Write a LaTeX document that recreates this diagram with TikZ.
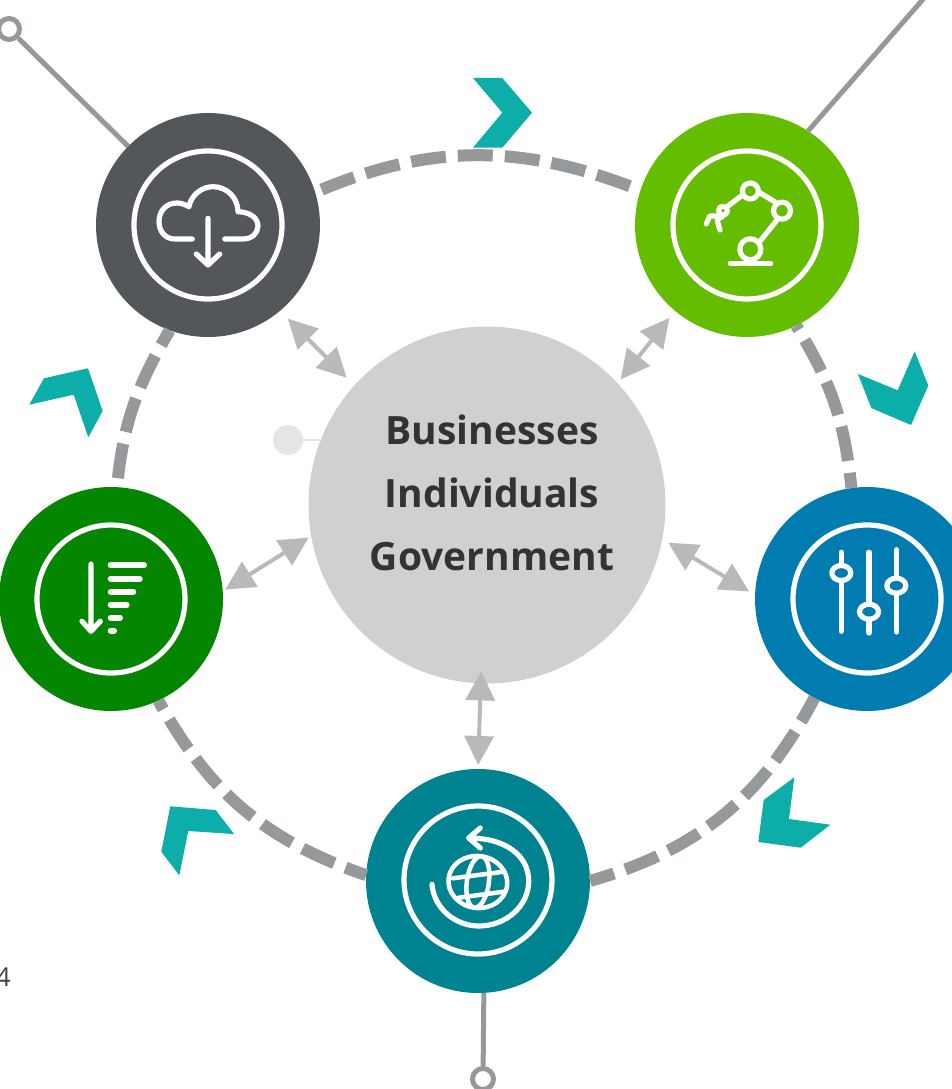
\documentclass[tikz,border=0pt]{standalone}
\usepackage{fontspec}
\setmainfont{Open Sans}
\usetikzlibrary{arrows.meta}
\definecolor{ringgray}{HTML}{96999B}
\definecolor{linkgray}{HTML}{B8BAB9}
\definecolor{hubgray}{HTML}{D0D0CE}
\definecolor{cloudgray}{HTML}{53565A}
\definecolor{robotgreen}{HTML}{65BD00}
\definecolor{sortgreen}{HTML}{048600}
\definecolor{sliderblue}{HTML}{007CB0}
\definecolor{globeteal}{HTML}{008391}
\definecolor{chevronteal}{HTML}{0DADAA}
\tikzset{
	stage/.style={circle, inner sep=0pt, outer sep=0pt, minimum size=224pt},
	pin/.style={circle, draw=ringgray, line width=5pt, fill=white, inner sep=0pt, minimum size=21pt},
	pinline/.style={draw=ringgray, line width=5pt},
	ringdash/.style={draw=ringgray, line width=12pt, dash pattern=on 35pt off 12pt},
	linkarrow/.style={draw=linkgray, line width=4pt, {Triangle[length=29pt,width=29pt,fill=linkgray]}-{Triangle[length=29pt,width=29pt,fill=linkgray]}},
	iconline/.style={draw=white, line width=5.2pt, line cap=round, line join=round},
	chevron/.style={fill=chevronteal}
}
\begin{document}
\begin{tikzpicture}[x=1pt, y=-1pt]
	\useasboundingbox (0,0) rectangle (952,1089);
	\clip (0,0) rectangle (952,1089);
	\node[fill=hubgray] (hub) at (487,505) [circle, inner sep=0pt, outer sep=0pt, minimum size=357pt] {};
	\node[fill=cloudgray] (cloud) at (208,225) [stage] {};
	\node[fill=robotgreen] (robot) at (747,225) [stage] {};
	\node[fill=sliderblue] (slider) at (867,599) [stage] {};
	\node[fill=globeteal] (globe) at (478,881) [stage] {};
	\node[fill=sortgreen] (sort) at (111,599) [stage] {};
		\node[pin] (cloudpin) at (9,29) {};
		\node[pin] (globepin) at (483,1079) {};
		\coordinate (robotend) at (925,-3);
		\node[fill=black!10, circle, inner sep=0pt, outer sep=0pt, minimum size=30pt] (dot) at (288,440) {};
	\node[text=black!80, align=center, font=\fontsize{39}{63}\selectfont\bfseries] (names) at (492,492.5) {Businesses\\Individuals\\Government};
	\node[text=black!75, anchor=base east, font=\fontsize{26}{30}\selectfont, inner sep=0pt] (pagenum) at (11,986) {4};
	\draw[pinline] (cloudpin) -- (cloud);
	\draw[pinline] (globe.-87.4) -- (globepin);
	\draw[pinline] (robot.57) -- (robotend);
	\draw[draw=black!10, line width=1.5pt] (dot.east) -- (dot.east -| hub.158.6);
	\draw[ringdash, shorten <=7pt] (cloud.17) to [bend left=22] (robot.162);
	\draw[ringdash, dash phase=30pt] (robot.-64) to [bend left=13] (slider.98);
	\draw[ringdash, dash phase=8pt] (slider.242) to [bend left=23] (globe.0);
	\draw[ringdash, dash phase=13pt] (globe.177) to [bend left=21] (sort.-65);
	\draw[ringdash, shorten <=9pt] (sort.87) to [bend left=12] (cloud.250);
	\draw[linkarrow, shorten <=11pt, shorten >=11pt] (cloud.-50) -- (hub.138);
	\draw[linkarrow, shorten <=9pt, shorten >=5pt] (robot.230) -- (hub.43);
	\draw[linkarrow, shorten <=3pt, shorten >=3pt] (sort.4.5) -- (hub.190);
	\draw[linkarrow, shorten <=7pt, shorten >=7pt] (hub.-11) -- (slider.178);
	\draw[linkarrow, shorten <=-12pt, shorten >=4pt] (hub.-92) -- (globe.90);
	\fill[chevron] (473,78) -- (502.3,78) -- (532,112.7) -- (502.3,147.7) -- (473,147.7) -- (502.3,112.7) -- cycle;
	\fill[chevron] (858,374) -- (897.7,390.3) -- (914.7,351.3) -- (928.3,385.7) -- (911,425) -- (871.3,408) -- cycle;
	\fill[chevron] (794.3,777.3) -- (789,819) -- (830.3,824.7) -- (800.7,847.7) -- (758.3,842) -- (763.7,800) -- cycle;
	\fill[chevron] (170.3,806.3) -- (215.7,810) -- (234,834) -- (188.3,831) -- (179.3,875.3) -- (161.3,851.7) -- cycle;
	\fill[chevron] (88,368.3) -- (102.7,411) -- (88.3,437.3) -- (73.7,394.7) -- (29.3,404.7) -- (44,378.3) -- cycle;
	\begin{scope}[shift={(cloud.center)}]
		\draw[iconline] (0,0) circle (74);
		\draw[iconline] (-15.7,14) -- (-33.3,14) .. controls (-43,14) and (-49,6) .. (-49,-3.3) .. controls (-49,-14) and (-42,-22) .. (-31,-22) .. controls (-27,-22) and (-23,-20.5) .. (-19,-18.3) .. controls (-17,-30) and (-6,-38.3) .. (5,-38.3) .. controls (19,-38.3) and (30,-27) .. (30,-13.3) .. controls (42,-13) and (50,-7) .. (50,1) .. controls (50,8) and (44,14) .. (35,14) -- (16.7,14);
		\draw[iconline] (0,-6.7) -- (0,40) (-11.7,29) -- (0,40) -- (11.7,29);
	\end{scope}
	\begin{scope}[shift={(robot.center)}]
		\draw[iconline] (0,0) circle (74);
		\draw[iconline] (-16.7,38.3) -- (23.7,38.3);
		\draw[iconline] (3.3,24.3) circle (10.5);
		\draw[iconline] (35,-14.3) circle (8.5);
		\draw[iconline] (3.3,-34) circle (8);
		\draw[iconline] (-24,-14.3) circle (4.5);
		\draw[iconline] (12.7,16.7) -- (30,-5) (27.7,-23.3) -- (12.7,-32.3) (-5.7,-29) -- (-19,-19);
		\draw[iconline] (-30.7,-9) -- (-37.3,-9) -- (-40.7,-1) (-24,-9) -- (-30,-5) -- (-27,5);
	\end{scope}
	\begin{scope}[shift={(sort.center)}]
		\draw[iconline] (0,0) circle (74);
		\draw[iconline] (-20,-35) -- (-20,32.3) (-29,22.3) -- (-20,32.3) -- (-10.7,22.3);
		\draw[iconline, line width=6pt] (-0.3,-33.7) -- (33,-33.7) (-0.3,-20.3) -- (28.7,-20.3) (-0.3,-7.3) -- (22.3,-7.3) (-0.3,5.7) -- (15.7,5.7) (-0.3,18.7) -- (9,18.7) (-0.3,31.7) -- (3,31.7);
	\end{scope}
	\begin{scope}[shift={(slider.center)}]
		\draw[iconline] (0,0) circle (74);
		\draw[iconline] (-25.7,-46.7) -- (-25.7,32.3) (2,-46.7) -- (2,34) (29.3,-49.3) -- (29.3,33);
		\draw[iconline, fill=sliderblue] (-25.7,-26) ellipse (9.5 and 7.5);
		\draw[iconline, fill=sliderblue] (2,12.7) ellipse (9.5 and 7.5);
		\draw[iconline, fill=sliderblue] (29.3,-13.3) ellipse (9.5 and 7.5);
	\end{scope}
	\begin{scope}[shift={(globe.center)}]
		\draw[iconline] (0,-1) circle (74);
		\draw[iconline, line width=4.5pt, rotate=-8] (0,1) ellipse (29.5 and 26);
		\draw[iconline, line width=4.5pt, rotate=-8] (0,1) ellipse (11 and 26);
		\draw[iconline, line width=4.5pt] (-25.3,-2.7) -- (25.7,-9.3) (-19.3,16.7) -- (25.7,10.7);
		\draw[iconline] (-46,3.3) .. controls (-44,28) and (-22,45) .. (0.7,45) .. controls (28,45) and (50.7,25) .. (50.7,0) .. controls (50.7,-25) and (28,-43) .. (-9,-43);
		\draw[iconline] (2.3,-53) -- (-9.3,-43) -- (2.3,-33);
	\end{scope}
\end{tikzpicture}
\end{document}
